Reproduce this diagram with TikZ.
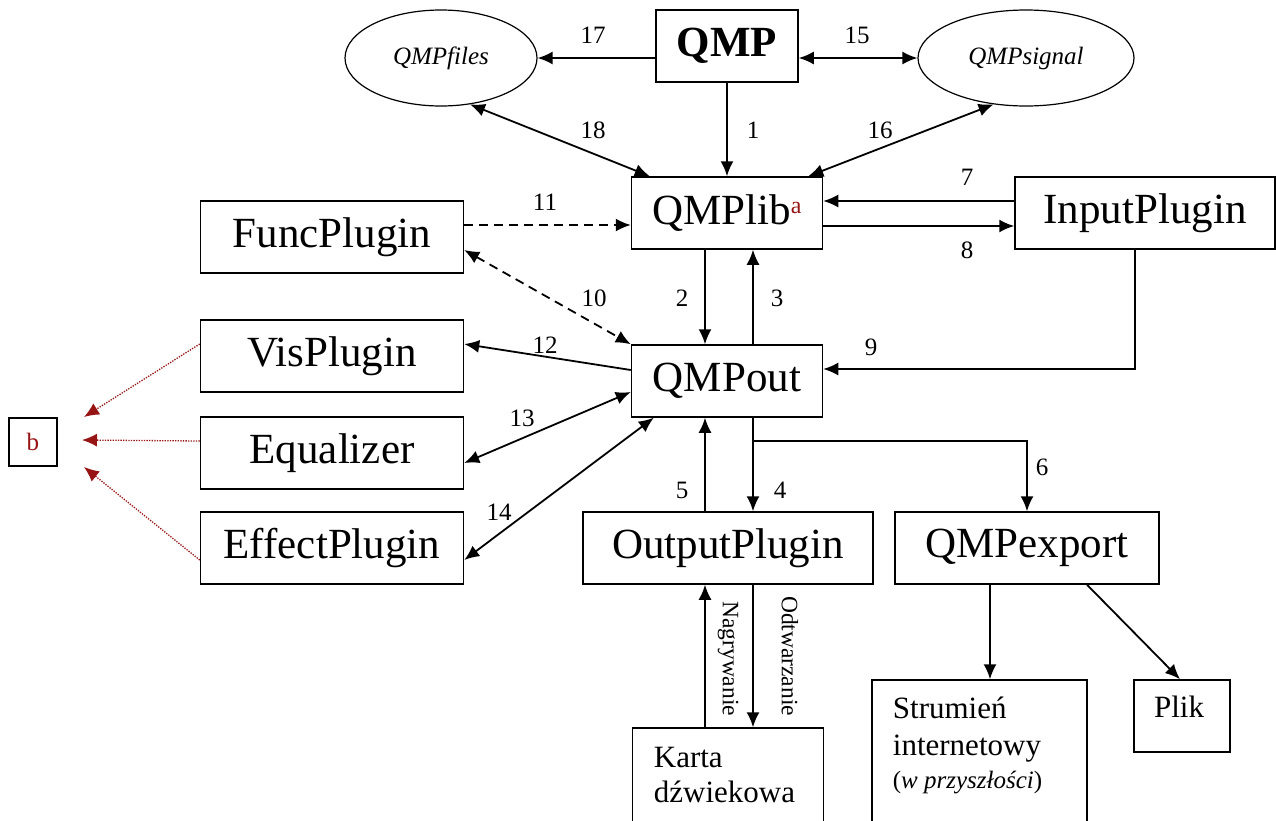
\documentclass[tikz,border=0pt]{standalone}
\usepackage{fontspec}
\setmainfont{Liberation Serif}
\usepackage{tikz}
\usetikzlibrary{arrows.meta}
\usetikzlibrary{shapes.geometric}
\definecolor{noteRed}{RGB}{150,20,20}
\newcommand{\boxfont}{\fontsize{43}{48}\selectfont}
\newcommand{\cardfont}{\fontsize{31}{36}\selectfont}
\newcommand{\numfont}{\fontsize{25}{30}\selectfont}
\newcommand{\sidefont}{\fontsize{23.5}{28}\selectfont}
\tikzset{box/.style = {draw, line width = 1.5pt, inner sep = 0, minimum height = 72pt, font = \boxfont}}
\tikzset{oval/.style = {draw, ellipse, line width = 1.2pt, inner sep = 0, minimum height = 96pt, font = \numfont\itshape}}
\tikzset{txt/.style = {inner sep = 0, anchor = base west, font = \cardfont}}
\tikzset{dashline/.style = {dash pattern = on 9pt off 6pt}}
\tikzset{reddot/.style = {draw = noteRed, line width = 1.3pt, dash pattern = on 1.3pt off 1.3pt}}

\begin{document}
\begin{tikzpicture}[x = 1pt, y = -1pt, >={Latex[length = 15pt, width = 13pt]}, line width = 1.8pt]
    \useasboundingbox (0, 0) rectangle (1276, 820);
    \clip (0, 0) rectangle (1276, 820);

    \node [box, font = \boxfont\bfseries, minimum width = 142pt] (qmp) at (727, 46) {QMP};
    \node [oval, minimum width = 192pt] (qmpfiles) at (441, 58) {QMPfiles};
    \node [oval, minimum width = 216pt] (qmpsignal) at (1026, 58) {QMPsignal};
    \node [box, minimum width = 191pt] (qmplib) at (727, 213) {QMPlib\raisebox{11pt}{\fontsize{24}{24}\selectfont\color{noteRed}a}};
    \node [box, minimum width = 260pt] (input) at (1145, 213) {InputPlugin};
    \node [box, minimum width = 263pt] (func) at (332, 237) {FuncPlugin};
    \node [box, minimum width = 263pt] (vis) at (332, 356) {VisPlugin};
    \node [box, minimum width = 263pt] (eq) at (332, 453) {Equalizer};
    \node [box, minimum width = 263pt] (effect) at (332, 548) {EffectPlugin};
    \node [box, minimum width = 48pt, minimum height = 48pt, font = \numfont, text = noteRed] (b) at (33, 442) {b};
    \node [box, minimum width = 191pt] (qmpout) at (727, 381) {QMPout};
    \node [box, minimum width = 290pt] (outplug) at (728, 548) {OutputPlugin};
    \node [box, minimum width = 264pt] (export) at (1027, 548) {QMPexport};
    \node [box, minimum width = 191pt, minimum height = 150pt] (karta) at (728, 803) {};
    \node [box, minimum width = 215pt, minimum height = 200pt] (strumien) at (979.5, 780) {};
    \node [box, minimum width = 96pt] (plik) at (1182, 716) {};

    \node [txt] (kartaA) at (653, 767) {Karta};
    \node [txt] (kartaB) at (653, 802) {dźwiekowa};
    \node [txt] (strumA) at (892, 718) {Strumień};
    \node [txt] (strumB) at (892, 755) {internetowy};
    \node [txt, font = \numfont] (strumC) at (892, 788) {(\textit{w przyszłości})};
    \node [txt, anchor = base] (plikA) at (1179, 717) {Plik};

    \draw [->] (qmp.west |- qmpfiles.east) -- (qmpfiles.east);
    \draw [<->] (qmp.east |- qmpsignal.west) -- (qmpsignal.west);
    \draw [->] (qmp.south) -- (qmplib.north);
    \draw [<->] (qmpfiles.-58) -- ([xshift = 19pt]qmplib.north west);
    \draw [<->] (qmpsignal.-125) -- ([xshift = -15pt]qmplib.north east);
    \draw [->] ([yshift = 12pt]input.west) -- ([yshift = 12pt]qmplib.east);
    \draw [->] ([yshift = -13pt]qmplib.east) -- ([yshift = -13pt]input.west);
    \draw [->, dashline] ([yshift = 12pt]func.east) -- ([yshift = 12pt]func.east -| qmplib.west);
    \draw [<->, dashline] ([yshift = -13pt]func.east) -- (qmpout.north west);
    \draw [->] ([xshift = -22pt]qmplib.south) -- ([xshift = -22pt]qmpout.north);
    \draw [->] ([xshift = 26pt]qmpout.north) -- ([xshift = 26pt]qmplib.south);
    \draw [->] ([xshift = -10pt]input.south) |- ([yshift = 12pt]qmpout.east);
    \draw [->] ([yshift = 11pt]qmpout.west) -- ([yshift = 12pt]vis.east);
    \draw [<->] ([yshift = -10pt]eq.east) -- ([yshift = -11pt]qmpout.west);
    \draw [<->] ([yshift = -12pt]effect.east) -- ([xshift = 23pt]qmpout.south west);
    \draw [->] ([xshift = -22pt]qmpout.south |- outplug.north) -- ([xshift = -22pt]qmpout.south);
    \draw [->] ([xshift = 26pt]qmpout.south) -- ([xshift = 26pt]qmpout.south |- outplug.north);
    \draw [->] ([xshift = 26pt, yshift = -23pt]qmpout.south) -| (export.north);
    \draw [->] ([xshift = -23pt]karta.north) -- ([xshift = -23pt]karta.north |- outplug.south);
    \draw [->] ([xshift = 25pt]karta.north |- outplug.south) -- ([xshift = 25pt]karta.north);
    \draw [->] ([xshift = -37pt]export.south) -- ([xshift = -37pt]export.south |- strumien.north);
    \draw [->] ([xshift = 60pt]export.south) -- ([xshift = -2pt]plik.north);

    \coordinate (tipV) at (84, 417);
    \coordinate (tipE) at (82, 440);
    \coordinate (tipF) at (84, 467);
    \draw [->, reddot] ([yshift = 12pt]vis.west) -- (tipV);
    \draw [->, reddot] ([yshift = 12pt]eq.west) -- (tipE);
    \draw [->, reddot] ([yshift = -12pt]effect.west) -- (tipF);

    \node [font = \sidefont, rotate = -90, anchor = east, inner sep = 0] (nagr) at (728, 717) {Nagrywanie};
    \node [font = \sidefont, rotate = -90, anchor = east, inner sep = 0] (odtw) at (790, 717) {Odtwarzanie};

    \node [font = \numfont] (n17) at (593, 35) {17};
    \node [font = \numfont] (n15) at (857, 35) {15};
    \node [font = \numfont] (n1) at (753, 130) {1};
    \node [font = \numfont] (n18) at (593, 130) {18};
    \node [font = \numfont] (n16) at (880, 130) {16};
    \node [font = \numfont] (n7) at (967, 177) {7};
    \node [font = \numfont] (n8) at (967, 250) {8};
    \node [font = \numfont] (n11) at (545, 202) {11};
    \node [font = \numfont] (n10) at (594, 298) {10};
    \node [font = \numfont] (n2) at (682, 298) {2};
    \node [font = \numfont] (n3) at (777, 298) {3};
    \node [font = \numfont] (n9) at (871, 347) {9};
    \node [font = \numfont] (n12) at (545, 345) {12};
    \node [font = \numfont] (n13) at (522, 418) {13};
    \node [font = \numfont] (n14) at (499, 512) {14};
    \node [font = \numfont] (n5) at (682, 490) {5};
    \node [font = \numfont] (n4) at (780, 490) {4};
    \node [font = \numfont] (n6) at (1042, 467) {6};
\end{tikzpicture}
\end{document}
